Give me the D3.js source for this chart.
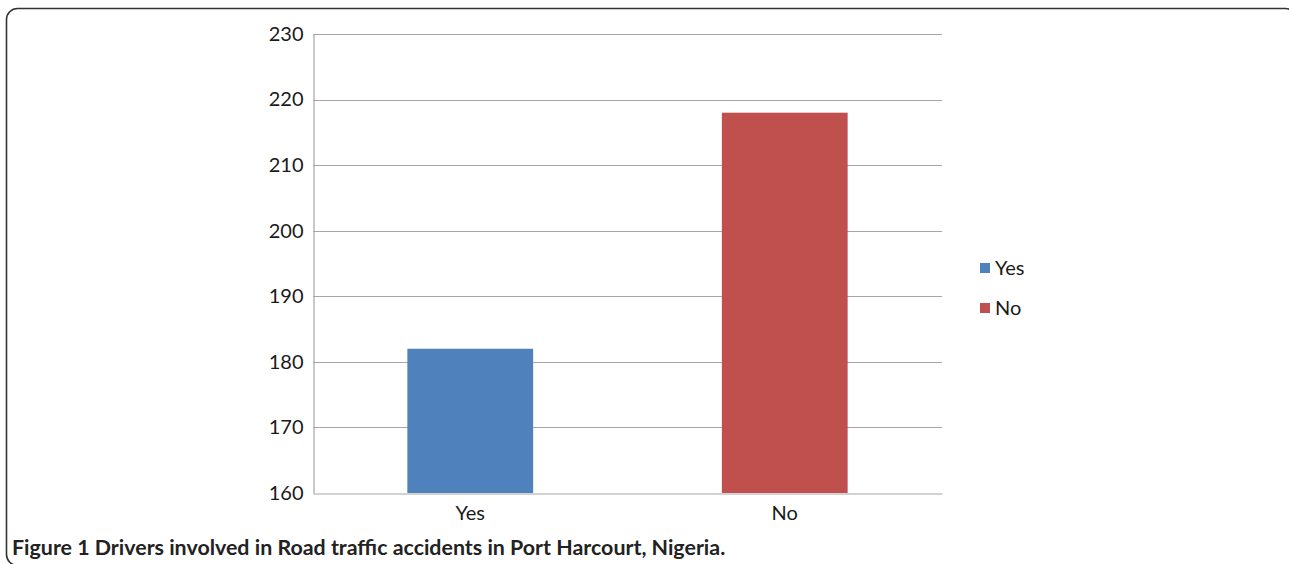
<!DOCTYPE html>
<html>
<head>
<meta charset="utf-8">
<script src="https://cdn.jsdelivr.net/npm/d3@7"></script>
<style>
  html, body { margin: 0; padding: 0; background: #fff; }
  svg { display: block; }
</style>
</head>
<body>
<svg id="chart" width="1289" height="564"></svg>
<script>
const categories = ["Yes", "No"];
const values = [182, 218];
const colors = ["#4f81bd", "#c0504d"];
const yTicks = [160, 170, 180, 190, 200, 210, 220, 230];
const caption = "Figure 1 Drivers involved in Road traffic accidents in Port Harcourt, Nigeria.";

const svg = d3.select("#chart");
const font = "Lato, 'Open Sans', sans-serif";

// frame
svg.append("rect")
  .attr("x", 6.5).attr("y", 8.5)
  .attr("width", 1290).attr("height", 557)
  .attr("rx", 11).attr("ry", 11)
  .attr("fill", "none").attr("stroke", "#333").attr("stroke-width", 1.6);

const plotL = 313, plotR = 942, plotT = 34, plotB = 493;

const x = d3.scaleBand().domain(categories).range([plotL, plotR])
  .paddingInner(0.6).paddingOuter(0.3);
const xc = d3.scaleBand().domain(categories).range([plotL, plotR]);
const y = d3.scaleLinear().domain([160, 230]).range([plotB, plotT]);

// gridlines
svg.append("g").selectAll("line").data(yTicks.slice(1)).join("line")
  .attr("x1", plotL).attr("x2", plotR)
  .attr("y1", d => Math.round(y(d)) + 0.5).attr("y2", d => Math.round(y(d)) + 0.5)
  .attr("stroke", "#a6a6a6").attr("stroke-width", 1.2);

// y axis
const yAxis = svg.append("g")
  .attr("transform", `translate(${plotL + 0.5},0)`)
  .call(d3.axisLeft(y).tickValues(yTicks).tickSize(0).tickPadding(10).tickFormat(d3.format("d")));
yAxis.select(".domain").attr("stroke", "#a6a6a6").attr("stroke-width", 1.2);
yAxis.selectAll("text").attr("font-family", font).attr("font-size", 20).attr("fill", "#1a1a1a");

// x axis baseline
const xAxis = svg.append("g")
  .attr("transform", `translate(0,${Math.round(plotB) + 0.5})`)
  .call(d3.axisBottom(xc).tickSize(0).tickPadding(12));
xAxis.select(".domain").attr("stroke", "#a6a6a6").attr("stroke-width", 1.2);
xAxis.selectAll("text").attr("font-family", font).attr("font-size", 20).attr("fill", "#1a1a1a");

// bars
svg.append("g").selectAll("rect").data(categories).join("rect")
  .attr("x", d => x(d))
  .attr("width", x.bandwidth())
  .attr("y", (d, i) => y(values[i]))
  .attr("height", (d, i) => y(160) - y(values[i]))
  .attr("fill", (d, i) => colors[i]);

// legend
const legend = svg.append("g").attr("transform", "translate(980,263)");
const li = legend.selectAll("g").data(categories).join("g")
  .attr("transform", (d, i) => `translate(0,${i * 40})`);
li.append("rect").attr("width", 10).attr("height", 10)
  .attr("fill", (d, i) => colors[i]);
li.append("text").attr("x", 15).attr("y", 5).attr("dy", "0.35em")
  .attr("font-family", font).attr("font-size", 20).attr("fill", "#1a1a1a")
  .text(d => d);

// caption
svg.append("text").attr("x", 12).attr("y", 555)
  .attr("font-family", font).attr("font-size", 21.4).attr("font-weight", "bold")
  .attr("fill", "#222")
  .text(caption);
</script>
</body>
</html>
